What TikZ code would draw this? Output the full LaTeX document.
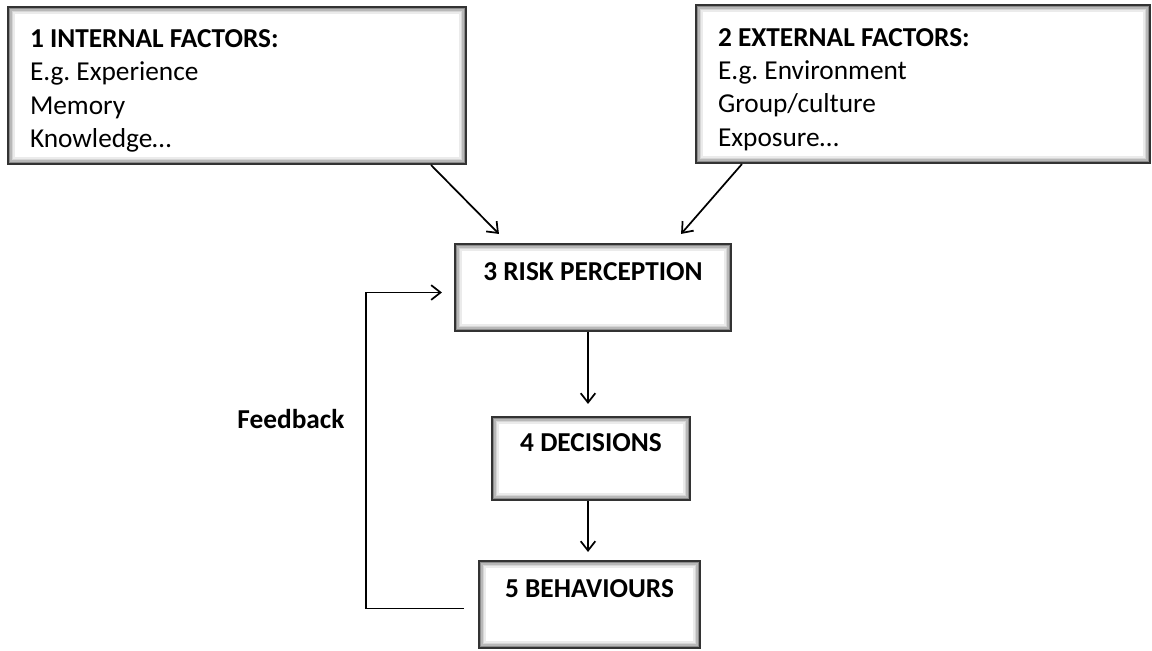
\documentclass[tikz,border=0pt]{standalone}
\usepackage{fontspec}
\setmainfont{Carlito}
\usetikzlibrary{arrows.meta,positioning,calc}

\begin{document}
\frenchspacing
\begin{tikzpicture}[x=0.75pt,y=-0.75pt,
  every node/.style={font=\fontsize{20.5}{25}\selectfont,align=flush center,},%
  bx/.style={draw=black!80,line width=1.6pt,fill=white,inner sep=0pt,%
    path picture={\foreach \i/\c in {1/45,2/28,3/16,4/8}{%
      \draw[black!\c,line width=1.1pt]
      ([shift={(\i*1.1pt,-\i*1.1pt)}]path picture bounding box.north west) rectangle
      ([shift={(-\i*1.1pt,\i*1.1pt)}]path picture bounding box.south east);}},},%
  fac/.style={bx,align=flush left,inner xsep=16.5pt,},%
  stg/.style={bx,font=\fontsize{20.5}{24}\selectfont\bfseries,},%
  e/.style={-{Straight Barb[length=7pt,width=11pt]},line width=1.3pt,},%
  ]
  \useasboundingbox (0,0) rectangle (1152,650);

  \node (int) [fac,minimum width=343.5pt,minimum height=117.75pt,text width=310.5pt%
  ] at (237,85.5) {\rule{0pt}{21.5pt}\textbf{1 INTERNAL FACTORS:}\\E.g. Experience\\Memory\\Knowledge…};

  \node (ext) [fac,minimum width=340.5pt,minimum height=118.5pt,text width=307.5pt%
  ] at (923,84) {\rule{0pt}{21.5pt}\textbf{2 EXTERNAL FACTORS:}\\E.g. Environment\\Group/culture\\Exposure…};

  \node (rp) [stg,minimum width=207pt,minimum height=65.25pt%
  ] at (593,287.5) {3 RISK PERCEPTION\\\mbox{}};

  \node (dec) [stg,minimum width=148.5pt,minimum height=62.25pt%
  ] at (591,458.5) {4 DECISIONS\\\mbox{}};

  \node (beh) [stg,minimum width=165.75pt,minimum height=65.25pt%
  ] at (589.5,604.5) {5 BEHAVIOURS\\\mbox{}};

  \node (fb) [font=\fontsize{20.5}{25}\selectfont\bfseries] at (291,419) {Feedback};

  \draw [e] ([shift={(-36,0)}]int.south east) -- ([shift={(45,-9)}]rp.north west);
  \draw [e] ([shift={(47,0)}]ext.south west) -- ([shift={(-51,-9)}]rp.north east);
  \draw [e,shorten >=9pt] (rp.south -| 588,0) -- (dec.north -| 588,0);
  \draw [e,shorten >=6pt] (dec.south -| 588,0) -- (beh.north -| 588,0);
  \draw [e] ([shift={(-14,4)}]beh.west) -- ++(-98,0) |- ([shift={(-12,5)}]rp.west);
\end{tikzpicture}
\end{document}
